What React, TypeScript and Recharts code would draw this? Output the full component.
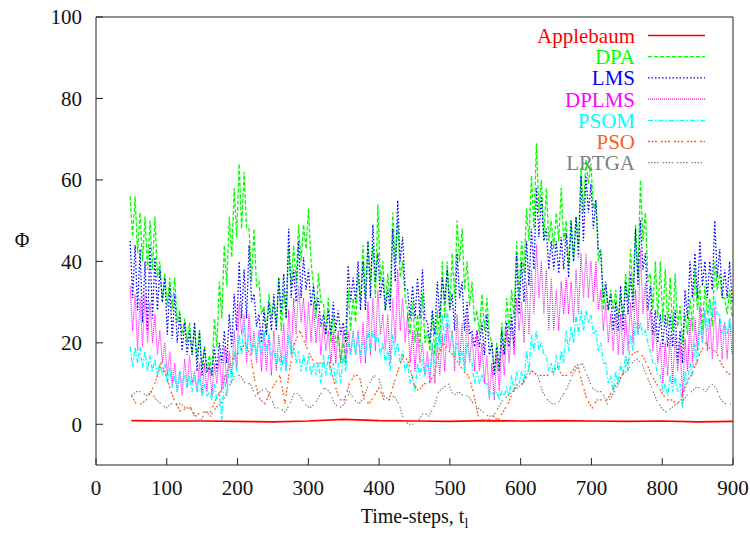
import { Line, LineChart, XAxis, YAxis } from "recharts";

// sampling grid of the readings: t = 50, 57, 64, ... 897
const gridStart = 50;
const gridStep = 7;

const xTicks = [0, 100, 200, 300, 400, 500, 600, 700, 800, 900];
const yTicks = [0, 20, 40, 60, 80, 100];

// dense series are read as (upper, lower) envelope pairs at each grid step
const dpa = [
  56, 46, 56, 42, 52, 40, 51, 38, 50, 38, 51, 36, 40, 30, 37, 29, 36, 28, 36, 25,
  28, 22, 26, 20, 25, 17, 24, 16, 23, 14, 19, 13, 17, 12, 26, 19, 35, 26, 44, 34,
  51, 41, 58, 46, 64, 48, 62, 48, 48, 35, 48, 34, 35, 27, 29, 22, 32, 26, 30, 24,
  36, 23, 33, 26, 44, 34, 44, 35, 49, 40, 49, 43, 53, 40, 34, 26, 37, 30, 30, 22,
  31, 20, 27, 20, 22, 15, 20, 15, 33, 23, 31, 25, 37, 30, 44, 31, 45, 35, 44, 31,
  54, 35, 40, 28, 37, 30, 52, 40, 50, 36, 40, 31, 28, 22, 30, 20, 27, 19, 32, 20,
  23, 18, 27, 17, 28, 20, 40, 26, 40, 28, 42, 31, 50, 40, 48, 33, 40, 29, 35, 25,
  28, 22, 32, 23, 31, 22, 20, 13, 20, 13, 25, 17, 31, 23, 33, 26, 45, 31, 45, 37,
  53, 45, 61, 48, 69, 52, 60, 46, 58, 45, 50, 43, 52, 45, 58, 45, 50, 39, 50, 40,
  51, 44, 63, 52, 65, 59, 64, 53, 55, 40, 43, 28, 34, 28, 33, 28, 33, 26, 32, 26,
  37, 30, 43, 31, 49, 36, 60, 45, 52, 35, 37, 28, 40, 26, 40, 25, 38, 24, 36, 23,
  37, 24, 29, 20, 27, 22, 31, 23, 38, 28, 34, 23, 34, 27, 31, 24, 40, 33, 37, 31,
  31, 27, 33, 26,
];

const lms = [
  45, 31, 44, 28, 43, 25, 40, 23, 44, 26, 41, 28, 38, 30, 36, 22, 34, 21, 32, 20,
  27, 18, 25, 17, 23, 17, 25, 13, 23, 12, 19, 13, 14, 12, 19, 13, 20, 15, 23, 15,
  27, 19, 32, 23, 40, 26, 38, 26, 44, 30, 32, 24, 27, 20, 28, 22, 30, 23, 32, 23,
  36, 27, 37, 26, 48, 31, 38, 30, 45, 31, 41, 33, 38, 29, 34, 28, 31, 24, 27, 22,
  28, 22, 30, 23, 28, 22, 25, 20, 39, 30, 36, 30, 40, 28, 40, 28, 45, 31, 49, 35,
  42, 31, 36, 28, 33, 28, 48, 35, 55, 40, 46, 33, 33, 26, 34, 26, 36, 26, 38, 26,
  25, 20, 28, 22, 35, 26, 36, 30, 38, 28, 32, 23, 42, 31, 35, 23, 30, 22, 23, 19,
  23, 19, 25, 17, 27, 17, 20, 12, 19, 13, 23, 17, 25, 19, 27, 19, 42, 27, 40, 30,
  45, 34, 48, 38, 58, 46, 56, 45, 48, 38, 45, 38, 45, 37, 46, 38, 47, 36, 50, 40,
  51, 41, 61, 45, 61, 52, 59, 48, 55, 43, 42, 31, 35, 28, 32, 23, 30, 23, 34, 23,
  35, 27, 37, 28, 48, 34, 50, 38, 42, 28, 34, 22, 28, 20, 27, 19, 27, 19, 27, 19,
  28, 15, 23, 15, 33, 26, 40, 31, 42, 31, 45, 34, 40, 31, 40, 33, 50, 36, 43, 31,
  38, 31, 40, 30,
];

const dplms = [
  34, 23, 32, 18, 31, 19, 32, 20, 30, 20, 27, 17, 23, 15, 20, 12, 18, 10, 15, 8,
  13, 7, 16, 9, 17, 10, 13, 8, 15, 7, 15, 8, 15, 7, 15, 10, 17, 8, 19, 10,
  18, 12, 23, 13, 30, 22, 27, 15, 27, 17, 23, 15, 23, 13, 23, 13, 22, 12, 23, 13,
  22, 15, 25, 13, 28, 17, 31, 22, 34, 25, 31, 20, 30, 20, 30, 20, 27, 17, 25, 18,
  23, 15, 23, 15, 23, 15, 23, 15, 23, 17, 23, 17, 23, 15, 25, 15, 30, 17, 31, 18,
  33, 22, 27, 18, 27, 15, 31, 20, 38, 23, 31, 20, 27, 15, 23, 13, 23, 15, 20, 12,
  18, 10, 20, 10, 20, 12, 22, 13, 25, 18, 23, 13, 27, 15, 25, 13, 27, 15, 22, 13,
  23, 13, 20, 10, 17, 6, 15, 6, 17, 8, 20, 12, 23, 15, 25, 17, 31, 23, 30, 20,
  35, 22, 38, 27, 44, 31, 40, 27, 38, 23, 36, 23, 33, 23, 35, 27, 36, 27, 35, 25,
  38, 27, 42, 31, 42, 31, 40, 30, 40, 28, 33, 23, 30, 20, 27, 18, 27, 17, 27, 17,
  27, 18, 30, 20, 33, 22, 43, 27, 35, 23, 28, 18, 25, 15, 20, 10, 20, 12, 22, 10,
  22, 13, 20, 7, 21, 13, 26, 15, 26, 18, 29, 20, 28, 18, 26, 16, 29, 18, 26, 16,
  25, 16, 26, 17,
];

const psom = [
  19, 14, 19, 15, 19, 14, 18, 13, 17, 13, 16, 12, 15, 12, 15, 10, 14, 9, 12, 8,
  13, 10, 12, 9, 12, 8, 12, 8, 12, 7, 10, 7, 8, 6, 10, 6, 8, 1, 12, 7,
  15, 10, 18, 13, 22, 17, 25, 18, 22, 17, 20, 17, 22, 17, 23, 18, 22, 17, 18, 15,
  17, 13, 17, 13, 22, 17, 20, 15, 18, 13, 17, 13, 17, 12, 15, 12, 15, 10, 17, 12,
  17, 12, 15, 10, 15, 10, 17, 13, 20, 17, 22, 17, 22, 17, 20, 17, 23, 18, 23, 20,
  22, 17, 20, 15, 18, 13, 22, 17, 20, 15, 18, 13, 15, 10, 12, 8, 15, 12, 16, 12,
  15, 12, 20, 15, 23, 18, 27, 20, 28, 23, 22, 17, 20, 15, 18, 13, 20, 17, 15, 10,
  13, 10, 12, 10, 10, 7, 8, 7, 8, 6, 8, 7, 9, 7, 12, 8, 13, 10, 13, 10,
  18, 13, 22, 18, 23, 18, 20, 17, 17, 13, 15, 12, 17, 13, 18, 15, 23, 18, 24, 20,
  27, 22, 28, 23, 28, 25, 27, 22, 23, 18, 20, 15, 15, 10, 12, 8, 13, 10, 15, 12,
  17, 13, 22, 18, 25, 22, 25, 22, 23, 20, 18, 15, 15, 12, 12, 8, 10, 7, 12, 8,
  12, 8, 10, 4, 13, 10, 15, 12, 20, 15, 25, 20, 28, 23, 30, 27, 31, 27, 27, 22,
  25, 22, 26, 22,
];

// smoother series, one value per grid step
const pso = [
  7, 5, 5, 6, 8, 11, 15, 12, 8, 5, 3, 4, 4, 2, 3, 3, 3, 6, 8, 12,
  15, 17, 18, 20, 17, 10, 6, 5, 8, 10, 12, 5, 14, 20, 23, 20, 17, 15, 15, 15,
  15, 10, 6, 6, 10, 12, 12, 6, 5, 7, 9, 6, 6, 10, 14, 17, 15, 10, 8, 10,
  10, 12, 17, 20, 18, 17, 15, 13, 12, 8, 2, 1, 1, 2, 1, 3, 5, 8, 10, 10,
  12, 13, 12, 12, 12, 13, 14, 12, 12, 13, 15, 10, 6, 4, 6, 6, 6, 8, 10, 12,
  15, 17, 18, 17, 15, 12, 10, 8, 6, 6, 5, 6, 10, 12, 15, 18, 20, 18, 18, 15,
  13, 12,
];

const lrtga = [
  7, 8, 8, 7, 8, 6, 5, 4, 5, 5, 5, 4, 4, 1, 1, 3, 2, 4, 5, 7,
  10, 12, 12, 10, 10, 7, 8, 9, 7, 4, 4, 3, 5, 8, 7, 5, 4, 5, 7, 9,
  8, 5, 4, 5, 8, 6, 5, 7, 10, 12, 11, 7, 6, 7, 5, 1, 0, 0, 1, 3,
  2, 4, 8, 9, 10, 7, 8, 7, 7, 5, 4, 3, 2, 2, 4, 6, 7, 8, 9, 10,
  13, 13, 12, 8, 6, 5, 5, 7, 9, 12, 14, 15, 12, 9, 8, 8, 5, 7, 9, 12,
  13, 15, 16, 15, 12, 9, 6, 4, 3, 4, 5, 5, 7, 8, 9, 9, 8, 10, 9, 6,
  5, 5,
];

const applebaumSteps = [50, 100, 150, 200, 250, 300, 350, 400, 450, 500, 550, 600, 650, 700, 750, 800, 850, 900];
const applebaum = [0.9, 0.8, 0.8, 0.7, 0.6, 0.8, 1.2, 0.9, 0.8, 0.7, 0.9, 0.8, 0.9, 0.8, 0.7, 0.8, 0.6, 0.7];

function envelope(pairs: number[]) {
  const out: { t: number; v: number }[] = [];
  for (let k = 0; k < pairs.length / 2; k++) {
    const t = gridStart + gridStep * k;
    out.push({ t: t - gridStep / 4, v: pairs[2 * k] });
    out.push({ t: t + gridStep / 4, v: pairs[2 * k + 1] });
  }
  return out;
}

function single(values: number[]) {
  return values.map((v, k) => ({ t: gridStart + gridStep * k, v }));
}

const series = [
  { name: "Applebaum", color: "#ff0000", dash: undefined, width: 1.6, data: applebaum.map((v, i) => ({ t: applebaumSteps[i], v })) },
  { name: "DPA", color: "#00ff00", dash: "4 2", width: 1.3, data: envelope(dpa) },
  { name: "LMS", color: "#0000ff", dash: "1.5 2", width: 1.3, data: envelope(lms) },
  { name: "DPLMS", color: "#ff00ff", dash: "1 1", width: 1.1, data: envelope(dplms) },
  { name: "PSOM", color: "#00ffff", dash: "5 2 1.5 2", width: 1.3, data: envelope(psom) },
  { name: "PSO", color: "#ff5e1a", dash: "2 1.5 2 1.5 2 4", width: 1.3, data: single(pso) },
  { name: "LRTGA", color: "#808080", dash: "1.5 1.5 1.5 1.5 1.5 1.5 1.5 4", width: 1.2, data: single(lrtga) },
];

const font = "'Liberation Serif', 'Times New Roman', serif";
const frame = "#222";

function LegendBox() {
  return (
    <svg width={750} height={534} style={{ position: "absolute", left: 0, top: 0, pointerEvents: "none" }}>
      {series.map((s, i) => {
        const base = 43 + i * 21.2;
        return (
          <g key={s.name}>
            <text x={635} y={base} textAnchor="end" fontFamily={font} fontSize={21} fill={s.color}>
              {s.name}
            </text>
            <line x1={648} x2={705} y1={base - 7.5} y2={base - 7.5} stroke={s.color} strokeWidth={s.width} strokeDasharray={s.dash} />
          </g>
        );
      })}
    </svg>
  );
}

export default function App() {
  return (
    <div style={{ position: "absolute", left: 0, top: 0, width: 750, height: 534, background: "#fff" }}>
      <LineChart width={750} height={534} margin={{ top: 16, right: 16, bottom: 0, left: 0 }}>
        <XAxis
          xAxisId="bottom"
          type="number"
          dataKey="t"
          domain={[0, 900]}
          ticks={xTicks}
          interval={0}
          height={69}
          tickSize={-7}
          tickMargin={22}
          axisLine={{ stroke: frame }}
          tickLine={{ stroke: frame }}
          tick={{ fill: "#111", fontSize: 21, fontFamily: font }}
          label={{
            content: (props: any) => {
              const vb = props.viewBox || { x: 96, y: 465, width: 637 };
              return (
                <text x={vb.x + vb.width / 2} y={523} textAnchor="middle" fontFamily={font} fontSize={20} fill="#111">
                  Time-steps, t
                  <tspan fontSize={14} dy={5}>l</tspan>
                </text>
              );
            },
          }}
        />
        <XAxis
          xAxisId="top"
          orientation="top"
          type="number"
          dataKey="t"
          domain={[0, 900]}
          ticks={xTicks}
          interval={0}
          height={1}
          tickSize={-7}
          tick={false}
          axisLine={{ stroke: frame }}
          tickLine={{ stroke: frame }}
        />
        <YAxis
          yAxisId="left"
          type="number"
          domain={[-10, 100]}
          ticks={yTicks}
          interval={0}
          width={96}
          tickSize={-7}
          tickMargin={21}
          axisLine={{ stroke: frame }}
          tickLine={{ stroke: frame }}
          tick={{ fill: "#111", fontSize: 21, fontFamily: font }}
          label={{
            content: () => (
              <text x={22} y={240} textAnchor="middle" dominantBaseline="central" fontFamily={font} fontSize={20} fill="#111">
                Φ
              </text>
            ),
          }}
        />
        <YAxis
          yAxisId="right"
          orientation="right"
          type="number"
          domain={[-10, 100]}
          ticks={yTicks}
          interval={0}
          width={1}
          tickSize={-7}
          tick={false}
          axisLine={{ stroke: frame }}
          tickLine={{ stroke: frame }}
        />
        {series.map((s) => (
          <Line
            key={s.name}
            name={s.name}
            data={s.data}
            dataKey="v"
            xAxisId="bottom"
            yAxisId="left"
            type="linear"
            stroke={s.color}
            strokeWidth={s.width}
            strokeDasharray={s.dash}
            dot={false}
            activeDot={false}
            isAnimationActive={false}
          />
        ))}
      </LineChart>
      <LegendBox />
    </div>
  );
}
